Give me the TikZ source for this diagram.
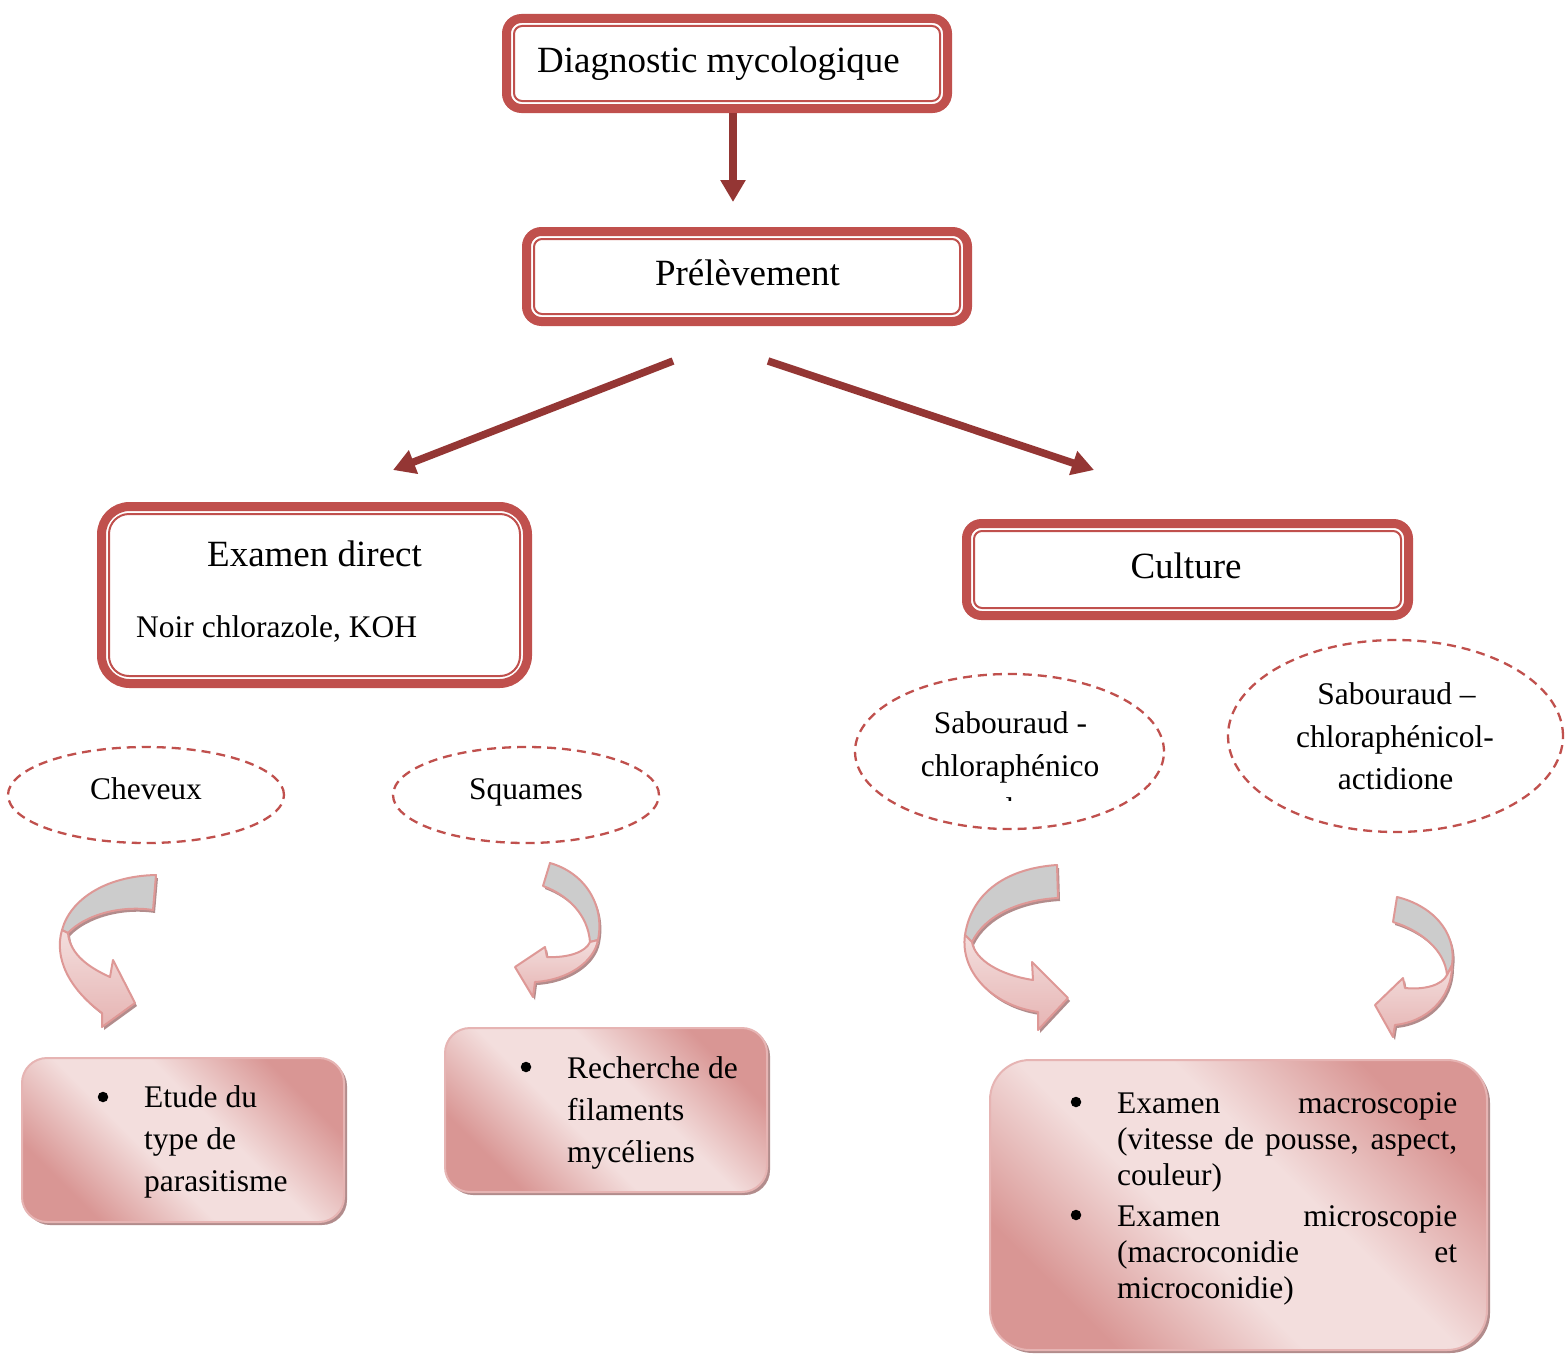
\documentclass[tikz,border=0pt]{standalone}
\usepackage{fontspec}
\setmainfont{Liberation Serif}
\usetikzlibrary{arrows.meta,shapes.geometric,shadows,calc}
\definecolor{boxred}{RGB}{192,80,77}
\definecolor{arrred}{RGB}{148,54,52}
\definecolor{pinkline}{RGB}{222,152,150}
\definecolor{pinklight}{RGB}{243,222,221}
\definecolor{pinkdark}{RGB}{217,150,148}
\definecolor{pinkmid}{RGB}{230,180,179}
\definecolor{ribgray}{RGB}{204,204,204}
\definecolor{shadowc}{RGB}{178,140,140}
\pgfdeclareverticalshading{boxgrad}{100bp}{color(0bp)=(pinkdark); color(26bp)=(pinkdark); color(43bp)=(pinklight); color(57bp)=(pinklight); color(74bp)=(pinkdark); color(100bp)=(pinkdark)}
\begin{document}
\begin{tikzpicture}[x=1pt,y=-1pt,
  mainbox/.style={draw=boxred, line width=9pt, rounded corners=15pt, inner sep=0pt, outer sep=0pt},
  innerline/.style={draw=boxred, line width=2pt, rounded corners=8pt},
  conn/.style={draw=arrred, line width=7.5pt, -{Triangle[width=24pt,length=22pt]}},
  dashell/.style={ellipse, draw=boxred, line width=2.3pt, dash pattern=on 9pt off 6pt, inner sep=0pt},
  lbl/.style={font=\fontsize{31.5}{42}\selectfont, inner sep=0pt},
  big/.style={font=\fontsize{37}{44}\selectfont, inner sep=0pt},
  dot/.style={circle, fill=black, inner sep=0pt, minimum size=10.5pt},
  rbox/.style={rounded corners=25pt, draw=pinkmid, line width=2pt, shading=boxgrad, shading angle=-45, inner sep=0pt, outer sep=0pt,
     drop shadow={shadow xshift=3pt, shadow yshift=-3pt, fill=shadowc, opacity=1}},
  ribshadow/.style={drop shadow={shadow xshift=2pt, shadow yshift=-3pt, fill=shadowc, opacity=1}},
  ribgrayst/.style={fill=ribgray, draw=pinkline, line width=2pt, line join=round, ribshadow},
  ribpink/.style={top color=pinklight, bottom color=pinkmid, draw=pinkline, line width=2pt, line join=round, ribshadow}
]
\fill[white] (0,0) rectangle (1565,1354);
\useasboundingbox (0,0) rectangle (1565,1354);

% ---- top boxes
\node[mainbox, minimum width=441pt, minimum height=90pt] (diag) at (727,63.5) {};
\draw[innerline] ([xshift=7.5pt,yshift=-7.5pt]diag.north west) rectangle ([xshift=-7.5pt,yshift=7.5pt]diag.south east);
\node[big, anchor=base] (diagt) at (718.5,72) {Diagnostic mycologique};

\node[mainbox, minimum width=441pt, minimum height=90pt] (prel) at (747,276.5) {};
\draw[innerline] ([xshift=7.5pt,yshift=-7.5pt]prel.north west) rectangle ([xshift=-7.5pt,yshift=7.5pt]prel.south east);
\node[big, anchor=base] (prelt) at (747.5,285) {Prélèvement};

\node[mainbox, minimum width=426pt, minimum height=177pt, rounded corners=28pt] (exam) at (314.5,595) {};
\draw[innerline, rounded corners=20pt] ([xshift=7.5pt,yshift=-7.5pt]exam.north west) rectangle ([xshift=-7.5pt,yshift=7.5pt]exam.south east);
\node[big, anchor=base] (examt) at (314.5,566) {Examen direct};
\node[lbl, anchor=base west] (examn) at (136,637) {Noir chlorazole, KOH};

\node[mainbox, minimum width=442pt, minimum height=92pt] (cult) at (1187.5,569.5) {};
\draw[innerline] ([xshift=7.5pt,yshift=-7.5pt]cult.north west) rectangle ([xshift=-7.5pt,yshift=7.5pt]cult.south east);
\node[big, anchor=base] (cultt) at (1186,578) {Culture};

% ---- arrows
\draw[conn] ([xshift=6pt,yshift=-4.5pt]diag.south) -- ([xshift=-14pt,yshift=29.5pt]prel.north);
\coordinate (ls) at (673,361);
\coordinate (lt) at (393,470);
\coordinate (rs) at (768,361);
\coordinate (rt) at (1094,470);
\draw[conn] (ls) -- (lt);
\draw[conn] (rs) -- (rt);

% ---- ellipses
\node[dashell, minimum width=276pt, minimum height=96pt] (chev) at (146,795) {};
\node[lbl, anchor=base] (chevt) at (146,799) {Cheveux};
\node[dashell, minimum width=266pt, minimum height=96pt] (squa) at (526,795) {};
\node[lbl, anchor=base] (squat) at (526,799) {Squames};
\node[dashell, minimum width=309pt, minimum height=155pt] (sabA) at (1009.5,751.5) {};
\node[lbl, anchor=base] (sabA1) at (1010.5,733) {Sabouraud -};
\node[lbl, anchor=base] (sabA2) at (1010,776) {chloraphénico};
\begin{scope}
\clip (860,700) rectangle (1160,800.5);
\node[lbl, anchor=base] (sabA3) at (1010,819) {l};
\end{scope}
\node[dashell, minimum width=335pt, minimum height=192pt] (sabB) at (1395.5,736) {};
\node[lbl, anchor=base] (sabB1) at (1396.5,704) {Sabouraud –};
\node[lbl, anchor=base] (sabB2) at (1395,747) {chloraphénicol-};
\node[lbl, anchor=base] (sabB3) at (1395.5,789) {actidione};

% ---- curved ribbon arrows
\path[ribgrayst] (156,875) .. controls (105,876) and (70,900) .. (62,930) -- (68,933) .. controls (85,915) and (120,905) .. (153,910) -- cycle;
\path[ribpink] (62,930) .. controls (54,957) and (68,988) .. (102,1013) -- (102,1027) -- (135,1003) -- (113,960) -- (110,977) .. controls (90,968) and (70,955) .. (68,933) -- cycle;

\path[ribgrayst] (550,863) .. controls (585,873) and (605,905) .. (598,940) -- (590,942) .. controls (588,915) and (568,895) .. (543,886) -- cycle;
\path[ribpink] (598,940) .. controls (594,962) and (568,980) .. (535,982) -- (533,997) -- (515,967) -- (545,947) -- (547,957) .. controls (568,958) and (586,952) .. (590,942) -- cycle;

\path[ribgrayst] (1057,865) .. controls (1010,868) and (972,890) .. (965,935) -- (972,942) .. controls (985,915) and (1020,900) .. (1058,898) -- cycle;
\path[ribpink] (965,935) .. controls (960,970) and (990,1005) .. (1038,1012) -- (1038,1030) -- (1068,998) -- (1032,962) -- (1033,980) .. controls (1000,975) and (975,960) .. (972,942) -- cycle;

\path[ribgrayst] (1397,897) .. controls (1430,905) and (1457,930) .. (1452,965) -- (1447,975) .. controls (1445,950) and (1420,930) .. (1393,922) -- cycle;
\path[ribpink] (1452,965) .. controls (1452,1000) and (1425,1022) .. (1395,1025) -- (1393,1037) -- (1375,1005) -- (1403,978) -- (1405,988) .. controls (1425,990) and (1442,985) .. (1447,975) -- cycle;

% ---- bottom boxes
\node[rbox, minimum width=322pt, minimum height=164pt] (bA) at (183,1140) {};
\node[dot] (bAb) at (103,1097) {};
\node[lbl, anchor=base west] (bA1) at (144,1107) {Etude du};
\node[lbl, anchor=base west] (bA2) at (144,1149) {type de};
\node[lbl, anchor=base west] (bA3) at (144,1191) {parasitisme};

\node[rbox, minimum width=322pt, minimum height=164pt] (bB) at (606,1110) {};
\node[dot] (bBb) at (526,1067) {};
\node[lbl, anchor=base west] (bB1) at (567,1078) {Recherche de};
\node[lbl, anchor=base west] (bB2) at (567,1120) {filaments};
\node[lbl, anchor=base west] (bB3) at (567,1162) {mycéliens};

\node[rbox, minimum width=497pt, minimum height=290pt, rounded corners=40pt] (bC) at (1238.5,1205) {};
\node[dot] (bCb1) at (1076,1102) {};
\node[lbl, anchor=base west] (bC1) at (1117,1113) {\makebox[340pt][s]{Examen macroscopie}};
\node[lbl, anchor=base west] (bC2) at (1117,1149) {\makebox[340pt][s]{(vitesse de pousse, aspect,}};
\node[lbl, anchor=base west] (bC3) at (1117,1185) {couleur)};
\node[dot] (bCb2) at (1076,1215) {};
\node[lbl, anchor=base west] (bC4) at (1117,1226) {\makebox[340pt][s]{Examen microscopie}};
\node[lbl, anchor=base west] (bC5) at (1117,1262) {\makebox[340pt][s]{(macroconidie et}};
\node[lbl, anchor=base west] (bC6) at (1117,1298) {microconidie)};
\end{tikzpicture}
\end{document}
